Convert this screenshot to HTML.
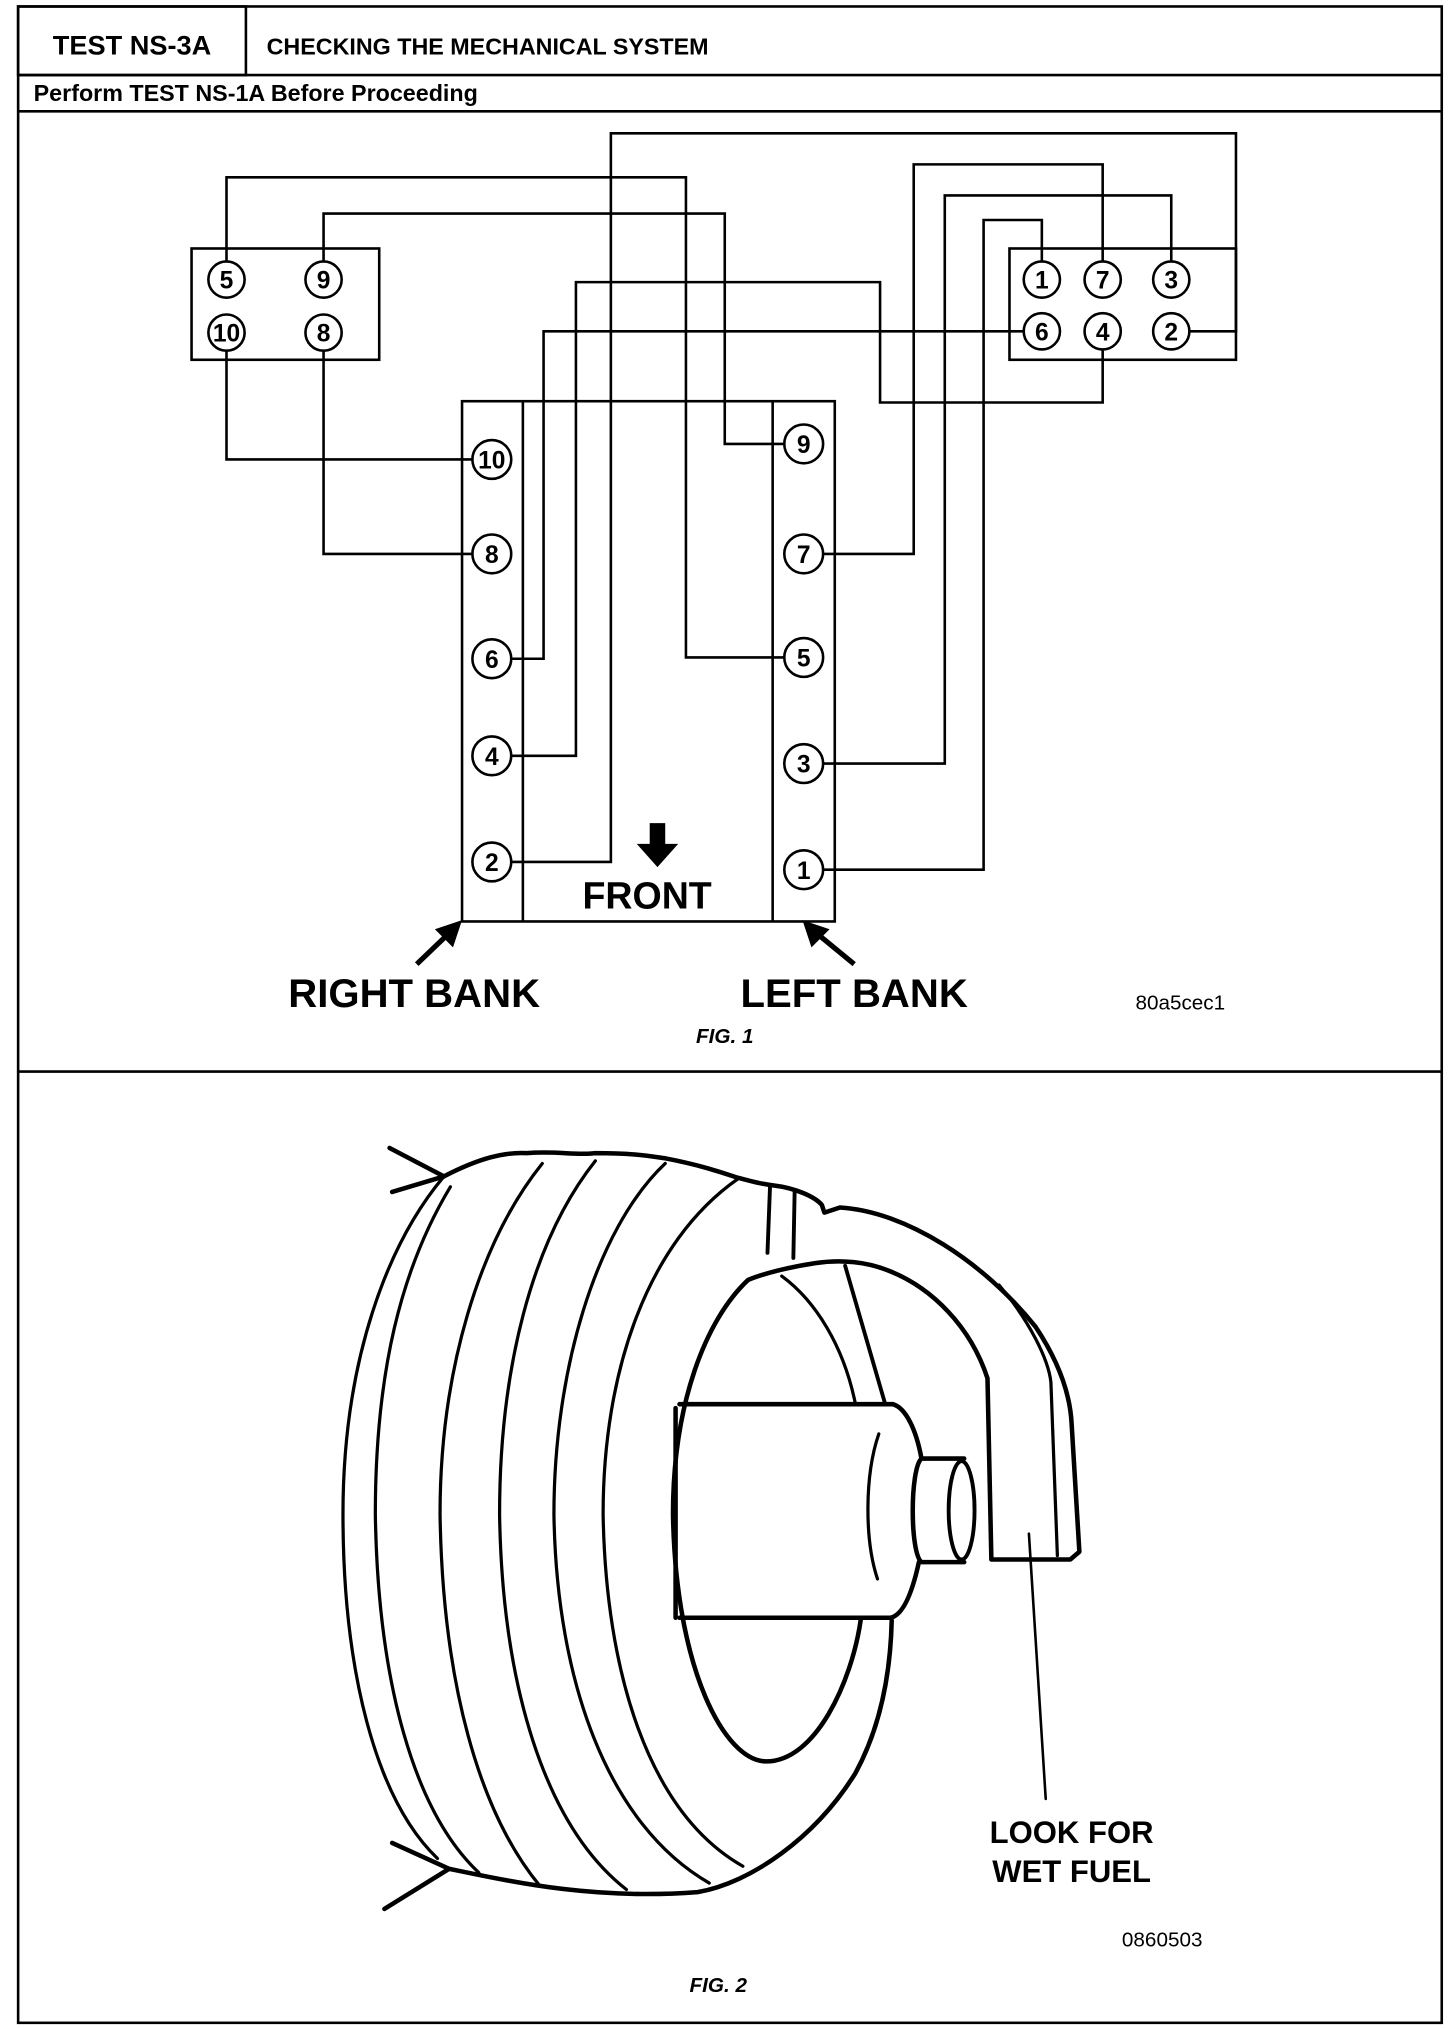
<!DOCTYPE html>
<html><head><meta charset="utf-8"><style>
html,body{margin:0;padding:0;background:#fff}
svg{display:block}
text{font-family:"Liberation Sans",Arial,sans-serif;fill:#000}
</style></head><body>
<svg width="1456" height="2028" viewBox="0 0 1125 1567" xmlns="http://www.w3.org/2000/svg">
<g fill="none" stroke="#000" stroke-width="2">
<rect x="14" y="5" width="1100" height="1558"/>
<rect x="14" y="5" width="176" height="53"/>
<line x1="14" y1="58" x2="1114" y2="58"/>
<line x1="14" y1="86" x2="1114" y2="86"/>
<line x1="14" y1="828" x2="1114" y2="828"/>
</g>
<text x="102" y="42" font-size="21" font-weight="bold" text-anchor="middle">TEST NS-3A</text>
<text x="206" y="42" font-size="18" font-weight="bold">CHECKING THE MECHANICAL SYSTEM</text>
<text x="26" y="78" font-size="18" font-weight="bold">Perform TEST NS-1A Before Proceeding</text>

<!-- FIG 1 -->
<g fill="none" stroke="#000" stroke-width="2">
<rect x="148" y="192" width="145" height="86"/>
<rect x="780" y="192" width="175" height="86"/>
<rect x="357" y="310" width="288" height="402"/>
<line x1="404" y1="310" x2="404" y2="712"/>
<line x1="597" y1="310" x2="597" y2="712"/>
<polyline points="175,202 175,137 530,137 530,508 607,508"/>
<polyline points="250,202 250,165 560,165 560,343 607,343"/>
<polyline points="175,271 175,355 366,355"/>
<polyline points="250,271 250,428 366,428"/>
<polyline points="394,509 420,509 420,256 791,256"/>
<polyline points="394,584 445,584 445,218 680,218 680,311 852,311 852,270"/>
<polyline points="394,666 472,666 472,103 955,103 955,256 919,256"/>
<polyline points="635,428 706,428 706,127 852,127 852,202"/>
<polyline points="635,590 730,590 730,151 905,151 905,202"/>
<polyline points="635,672 760,672 760,170 805,170 805,202"/>
</g>
<g fill="#fff" stroke="#000" stroke-width="2">
<circle cx="175" cy="216" r="14"/><circle cx="250" cy="216" r="14"/>
<circle cx="175" cy="257" r="14"/><circle cx="250" cy="257" r="14"/>
<circle cx="805" cy="216" r="14"/><circle cx="852" cy="216" r="14"/><circle cx="905" cy="216" r="14"/>
<circle cx="805" cy="256" r="14"/><circle cx="852" cy="256" r="14"/><circle cx="905" cy="256" r="14"/>
<circle cx="380" cy="355" r="15"/><circle cx="380" cy="428" r="15"/><circle cx="380" cy="509" r="15"/>
<circle cx="380" cy="584" r="15"/><circle cx="380" cy="666" r="15"/>
<circle cx="621" cy="343" r="15"/><circle cx="621" cy="428" r="15"/><circle cx="621" cy="508" r="15"/>
<circle cx="621" cy="590" r="15"/><circle cx="621" cy="672" r="15"/>
</g>
<g font-size="19" font-weight="bold" text-anchor="middle">
<text x="175" y="223">5</text><text x="250" y="223">9</text>
<text x="175" y="264">10</text><text x="250" y="264">8</text>
<text x="805" y="223">1</text><text x="852" y="223">7</text><text x="905" y="223">3</text>
<text x="805" y="263">6</text><text x="852" y="263">4</text><text x="905" y="263">2</text>
<text x="380" y="362">10</text><text x="380" y="435">8</text><text x="380" y="516">6</text>
<text x="380" y="591">4</text><text x="380" y="673">2</text>
<text x="621" y="350">9</text><text x="621" y="435">7</text><text x="621" y="515">5</text>
<text x="621" y="597">3</text><text x="621" y="679">1</text>
</g>
<polygon points="502,636 514,636 514,652 524,652 508,670 492,652 502,652" fill="#000"/>
<text x="500" y="702" font-size="29" font-weight="bold" text-anchor="middle">FRONT</text>
<g stroke="#000" stroke-width="4">
<line x1="322" y1="745" x2="346" y2="722"/>
<line x1="660" y1="745" x2="632" y2="722"/>
</g>
<polygon points="357,711 336,718 350,732" fill="#000"/>
<polygon points="620,711 641,718 627,732" fill="#000"/>
<text x="320" y="778" font-size="31" font-weight="bold" text-anchor="middle">RIGHT BANK</text>
<text x="660" y="778" font-size="31" font-weight="bold" text-anchor="middle">LEFT BANK</text>
<text x="912" y="780" font-size="16" text-anchor="middle">80a5cec1</text>
<text x="560" y="806" font-size="16" font-weight="bold" font-style="italic" text-anchor="middle">FIG. 1</text>

<!-- FIG 2 -->
<g fill="none" stroke="#000" stroke-width="2.5" stroke-linecap="round" stroke-linejoin="round">
<!-- ticks -->
<path d="M301,887 L343,909 L303,921" stroke-width="3.5"/>
<path d="M303,1424 L347,1444 L297,1475" stroke-width="3.5"/>
<!-- top rim + pipe outer -->
<path stroke-width="3.5" d="M343,909 C370,895 390,890 407,891 C430,889 445,893 460,891 C490,891 500,893 514,895 C540,900 555,905 570,910 C585,914 590,915 598,916 C615,918 630,925 635,931 L637,937 L649,933 C700,936 760,975 800,1025 C820,1055 827,1080 828,1100 L834,1199 L827,1205 L766,1205 L763,1065 C750,1025 720,995 687,982 C670,975 650,973 630,976 C610,979 590,984 578,989"/>
<path d="M772,993 C795,1020 810,1050 812,1068 L817,1202"/>
<!-- grooves -->
<path d="M343,909 C300,960 265,1050 265,1170 C265,1290 290,1390 338,1436"/>
<path d="M348,917 C310,980 290,1060 290,1170 C292,1300 320,1400 370,1447"/>
<path d="M419,899 C370,960 340,1060 340,1170 C342,1300 370,1400 417,1457"/>
<path d="M460,897 C410,960 386,1060 386,1170 C388,1300 420,1410 484,1460"/>
<path d="M514,899 C460,950 428,1060 428,1170 C430,1300 470,1410 548,1455"/>
<path d="M570,911 C500,960 466,1060 466,1170 C468,1290 500,1400 574,1442"/>
<!-- bottom outline -->
<path stroke-width="3.5" d="M347,1444 C400,1455 460,1468 539,1462 C580,1455 630,1420 661,1370 C680,1335 688,1295 689,1252"/>
<!-- hole -->
<path stroke-width="3.5" d="M578,989 C545,1020 520,1085 520,1170 C522,1290 560,1361 592,1361 C630,1361 658,1300 665,1252"/>
<path d="M604,986 C630,1005 652,1040 661,1085"/>
<path stroke-width="3" d="M653,978 L684,1085"/>
<!-- marks -->
<path d="M595,916 L593,968 M614,920 L613,972" stroke-width="3"/>
<!-- cylinder -->
<path stroke-width="3.5" d="M525,1085 L690,1085 C700,1088 708,1105 712,1127 M710,1207 C705,1230 698,1248 688,1250 L525,1250"/>
<line x1="522" y1="1088" x2="522" y2="1250" stroke-width="3.5"/>
<path d="M679,1108 C668,1140 668,1190 678,1220"/>
<!-- nub -->
<path stroke-width="3.5" d="M745,1127 L712,1127 C703,1135 703,1200 712,1207 L745,1207"/>
<ellipse cx="743" cy="1167" rx="10" ry="38" stroke-width="3"/>
<!-- leader -->
<line x1="795" y1="1185" x2="808" y2="1390" stroke-width="2"/>
</g>
<text x="828" y="1424" font-size="24" font-weight="bold" text-anchor="middle">LOOK FOR</text>
<text x="828" y="1454" font-size="24" font-weight="bold" text-anchor="middle">WET FUEL</text>
<text x="898" y="1504" font-size="16" text-anchor="middle">0860503</text>
<text x="555" y="1539" font-size="16" font-weight="bold" font-style="italic" text-anchor="middle">FIG. 2</text>
</svg>
</body></html>
